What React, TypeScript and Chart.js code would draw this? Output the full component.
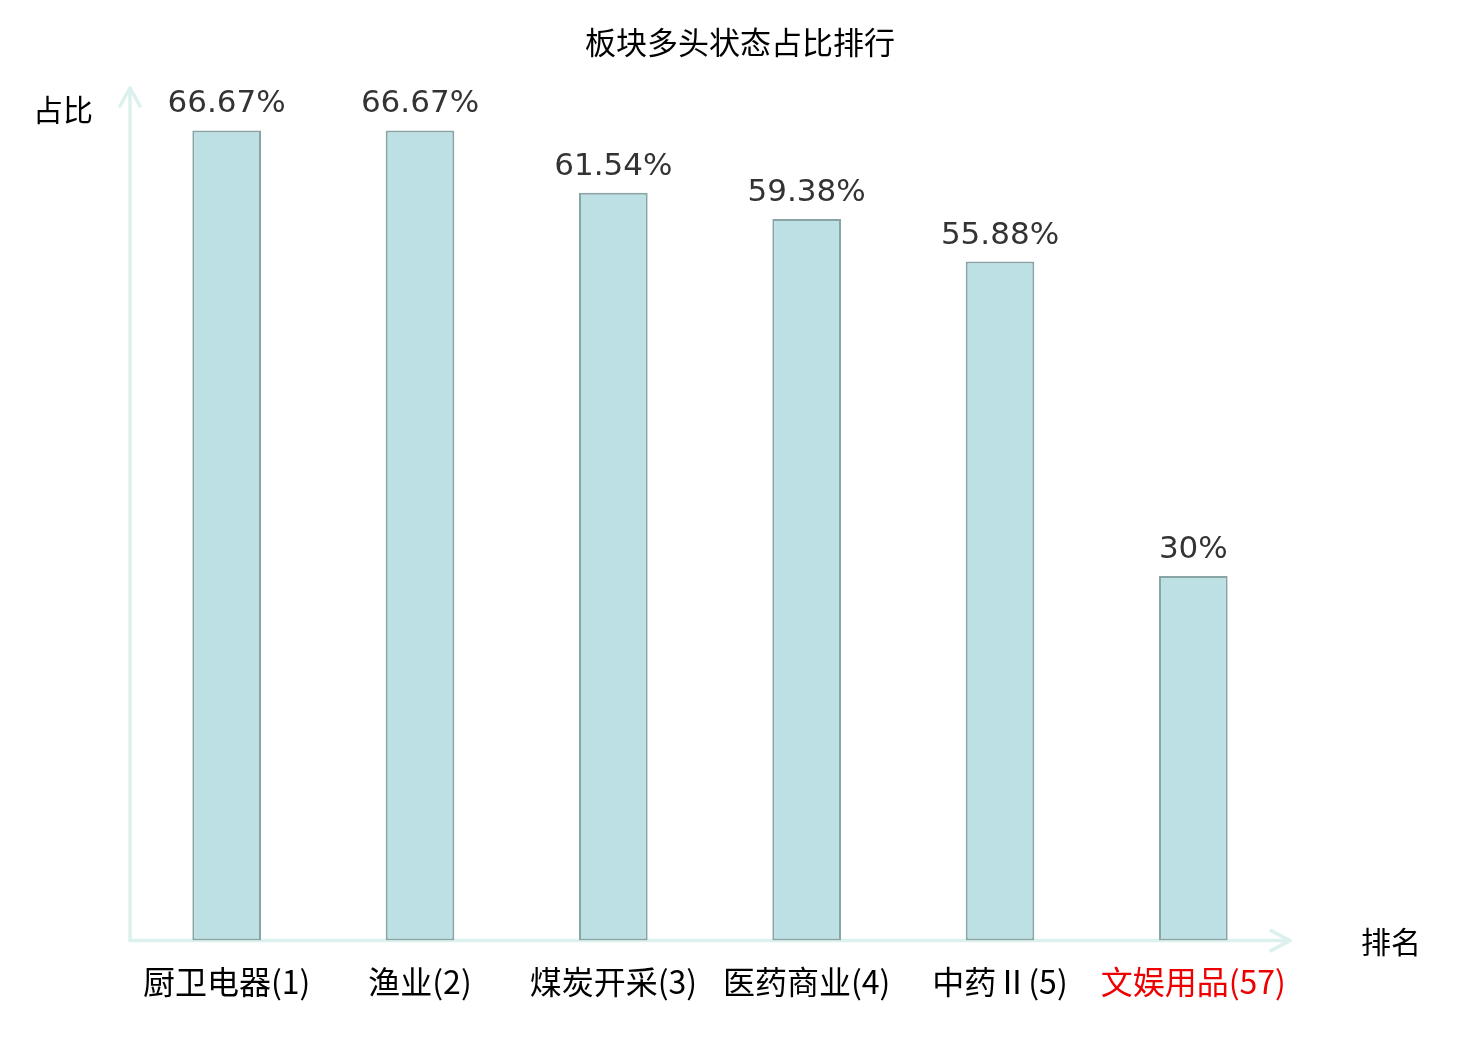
import React, { useEffect, useRef } from "react";
import { Chart, registerables } from "chart.js";

Chart.register(...registerables);

const chartTitle = "板块多头状态占比排行";
const yAxisTitle = "占比";
const xAxisTitle = "排名";
const categories = ["厨卫电器(1)", "渔业(2)", "煤炭开采(3)", "医药商业(4)", "中药Ⅱ(5)", "文娱用品(57)"];
const values = [66.67, 66.67, 61.54, 59.38, 55.88, 30];
const labelColors = ["#000000", "#000000", "#000000", "#000000", "#000000", "#ee0000"];
const valueLabels = values.map((v) => `${v}%`);
const yMin = 0;
const yMax = 70;

const AXIS_COLOR = "#dcf0ed";
const CJK = '"Noto Sans CJK SC", "Noto Sans", sans-serif';
const LATIN = '"DejaVu Sans", sans-serif';

const decorPlugin = {
  id: "decor",
  beforeDatasetsDraw(chart: any) {
    const { ctx, chartArea } = chart;
    const { left, right, top, bottom } = chartArea;
    ctx.save();
    ctx.strokeStyle = AXIS_COLOR;
    ctx.lineWidth = 3.5;
    ctx.lineCap = "round";
    ctx.lineJoin = "round";
    const yTop = top - 2;
    const yAx = bottom;
    // y axis
    ctx.beginPath();
    ctx.moveTo(left, yAx);
    ctx.lineTo(left, yTop);
    ctx.stroke();
    ctx.beginPath();
    ctx.moveTo(left - 10, yTop + 18);
    ctx.lineTo(left, yTop);
    ctx.lineTo(left + 10, yTop + 18);
    ctx.stroke();
    // x axis
    ctx.beginPath();
    ctx.moveTo(left, yAx);
    ctx.lineTo(right, yAx);
    ctx.stroke();
    ctx.beginPath();
    ctx.moveTo(right - 19, yAx - 10);
    ctx.lineTo(right, yAx);
    ctx.lineTo(right - 19, yAx + 10);
    ctx.stroke();
    ctx.restore();
  },
  afterDatasetsDraw(chart: any) {
    const { ctx, chartArea, width } = chart;
    const meta = chart.getDatasetMeta(0);
    ctx.save();
    ctx.fillStyle = "#333333";
    ctx.font = `31px ${LATIN}`;
    ctx.textAlign = "center";
    ctx.textBaseline = "alphabetic";
    meta.data.forEach((bar: any, i: number) => {
      ctx.fillText(valueLabels[i], bar.x, bar.y - 18);
    });
    ctx.fillStyle = "#000000";
    ctx.font = `30px ${CJK}`;
    ctx.textBaseline = "middle";
    ctx.textAlign = "center";
    ctx.fillText(yAxisTitle, chartArea.left - 67, chartArea.top + 20);
    ctx.fillText(xAxisTitle, chartArea.right + 101, chartArea.bottom + 1);
    ctx.font = `31px ${CJK}`;
    ctx.fillText(chartTitle, width / 2, 42);
    ctx.restore();
  },
};

export default function App() {
  const canvasRef = useRef<HTMLCanvasElement | null>(null);

  useEffect(() => {
    if (!canvasRef.current) return;
    const chart = new Chart(canvasRef.current, {
      type: "bar",
      data: {
        labels: categories,
        datasets: [
          {
            data: values,
            backgroundColor: "#bce0e3",
            borderColor: "#89a4a4",
            borderWidth: 2,
            borderSkipped: false,
            categoryPercentage: 1,
            barPercentage: 0.355,
          },
        ],
      },
      options: {
        animation: false,
        responsive: false,
        maintainAspectRatio: false,
        devicePixelRatio: 1,
        layout: { padding: { left: 130, right: 190, top: 90, bottom: 17 } },
        plugins: {
          legend: { display: false },
          tooltip: { enabled: false },
          title: { display: false },
        },
        scales: {
          x: {
            grid: { display: false, drawTicks: false },
            border: { display: false },
            ticks: {
              padding: 22,
              font: { family: CJK, size: 32 },
              color: (c: any) => labelColors[c.index] ?? "#000",
              maxRotation: 0,
              autoSkip: false,
            },
          },
          y: {
            display: false,
            min: yMin,
            max: yMax,
          },
        },
      },
      plugins: [decorPlugin],
    });
    return () => chart.destroy();
  }, []);

  return (
    <div style={{ position: "fixed", left: 0, top: 0, width: 1480, height: 1040, background: "#fff" }}>
      <canvas ref={canvasRef} width={1480} height={1040} style={{ width: 1480, height: 1040 }} />
    </div>
  );
}
